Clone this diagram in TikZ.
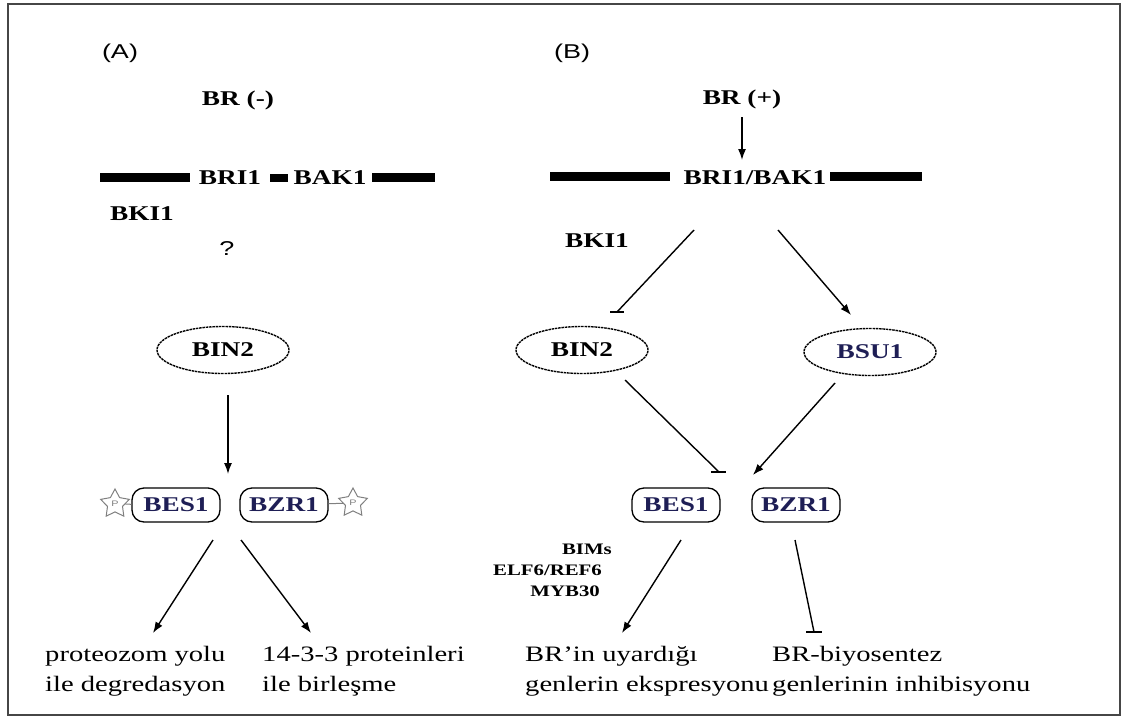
\documentclass[tikz,border=0pt]{standalone}
\usepackage{fontspec}
\setmainfont{Liberation Serif}[FakeStretch=1.3]
\setsansfont{Liberation Sans}[FakeStretch=1.35]
\usetikzlibrary{arrows.meta,shapes.geometric}
\definecolor{navy}{RGB}{30,30,85}
\definecolor{framegray}{RGB}{70,70,70}
\tikzset{
  lbl/.style={font=\bfseries\fontsize{21}{24}\selectfont, inner sep=0pt},
  small/.style={font=\bfseries\fontsize{16}{19}\selectfont, inner sep=0pt},
  sans/.style={font=\sffamily\fontsize{20}{24}\selectfont, inner sep=0pt},
  txt/.style={font=\fontsize{22}{30}\selectfont, inner sep=0pt, align=left},
  membrane/.style={line width=9pt},
  ell/.style={ellipse, draw, dash pattern=on 2.5pt off 0.8pt, line width=1.4pt, minimum width=132pt, minimum height=47pt, inner sep=0pt, font=\bfseries\fontsize{21}{24}\selectfont},
  pill/.style={draw, rounded corners=12pt, line width=1.3pt, minimum width=88pt, minimum height=34pt, inner sep=0pt, font=\bfseries\fontsize{21}{24}\selectfont, text=navy},
  pstar/.style={star, star points=5, star point ratio=1.9, draw=gray, line width=1pt, minimum size=30pt, inner sep=0pt, font=\sffamily\fontsize{8}{9}\selectfont, text=gray},
  conn/.style={line width=1.4pt},
  arr/.style={conn, -{Latex[length=11pt,width=8pt]}},
}
\begin{document}
\begin{tikzpicture}[x=1pt,y=-1pt]
\useasboundingbox (0,0) rectangle (1127,720);
\draw[framegray, line width=2pt] (8,4) rectangle (1120,715);

% ---------- Panel A ----------
\node[sans] (labA) at (120,53) {(A)};
\node[lbl] (brm) at (238,100) {BR (-)};
\draw[membrane] (100,177) -- (190,177);
\node[lbl] (bri1A) at (230,178) {BRI1};
\draw[line width=8pt] (270,178) -- (288,178);
\node[lbl] (bak1A) at (330,178) {BAK1};
\draw[membrane] (372,177) -- (435,177);
\node[lbl] (bki1A) at (142,214) {BKI1};
\node[sans] (qA) at (227,249) {?};

\node[ell] (binA) at (223,350) {BIN2};
\coordinate (binAs) at (228,395);
\coordinate (binAe) at (228,474);
\draw[arr] (binAs) -- (binAe);

\node[pill] (besA) at (176,505) {BES1};
\node[pill] (bzrA) at (284,505) {BZR1};
\node[pstar] (stL) at (115,504) {P};
\node[pstar] (stR) at (353,503) {P};
\draw[gray, line width=1pt] (stL) -- (besA);
\draw[gray, line width=1pt] (bzrA) -- (stR);

\coordinate (aL1) at (213,540);
\coordinate (aL2) at (153,633);
\coordinate (aR1) at (241,540);
\coordinate (aR2) at (311,633);
\draw[arr] (aL1) -- (aL2);
\draw[arr] (aR1) -- (aR2);

\node[txt, anchor=base west] (tA1) at (45,691) {proteozom yolu\\ile degredasyon};
\node[txt, anchor=base west] (tA2) at (262,691) {14-3-3 proteinleri\\ile birleşme};

% ---------- Panel B ----------
\node[sans] (labB) at (572,53) {(B)};
\node[lbl] (brp) at (742,99) {BR (+)};
\draw[membrane] (550,176) -- (670,176);
\node[lbl] (bribak) at (755,178) {BRI1/BAK1};
\draw[membrane] (830,176) -- (922,176);
\coordinate (brpA) at (742,117);
\coordinate (brpB) at (742,160);
\draw[arr] (brpA) -- (brpB);
\node[lbl] (bki1B) at (597,241) {BKI1};

\coordinate (iL1) at (694,230);
\coordinate (iL2) at (617,312);
\draw[conn] (iL1) -- (iL2);
\draw[conn] ([xshift=-7pt]iL2) -- ([xshift=7pt]iL2);
\coordinate (iR1) at (778,230);
\coordinate (iR2) at (851,315);
\draw[arr] (iR1) -- (iR2);

\node[ell] (binB) at (582,350) {BIN2};
\node[ell, text=navy] (bsu) at (870,352) {BSU1};

\coordinate (bb1) at (625,380);
\coordinate (bb2) at (719,472);
\draw[conn] (bb1) -- (bb2);
\draw[conn] ([xshift=-8pt]bb2) -- ([xshift=7pt]bb2);
\coordinate (bs1) at (835,383);
\coordinate (bs2) at (753,475);
\draw[arr] (bs1) -- (bs2);

\node[pill] (besB) at (676,505) {BES1};
\node[pill] (bzrB) at (796,505) {BZR1};

\node[small, anchor=east] (bims) at (612,549) {BIMs};
\node[small, anchor=east] (elf) at (602,570) {ELF6/REF6};
\node[small, anchor=east] (myb) at (600,591) {MYB30};

\coordinate (eB1) at (681,540);
\coordinate (eB2) at (622,633);
\draw[arr] (eB1) -- (eB2);
\coordinate (hB1) at (795,540);
\coordinate (hB2) at (814,632);
\draw[conn] (hB1) -- (hB2);
\draw[conn] ([xshift=-8pt]hB2) -- ([xshift=8pt]hB2);

\node[txt, anchor=base west] (tB1) at (525,691) {BR'in uyardığı\\genlerin ekspresyonu};
\node[txt, anchor=base west] (tB2) at (772,691) {BR-biyosentez\\genlerinin inhibisyonu};
\end{tikzpicture}
\end{document}
